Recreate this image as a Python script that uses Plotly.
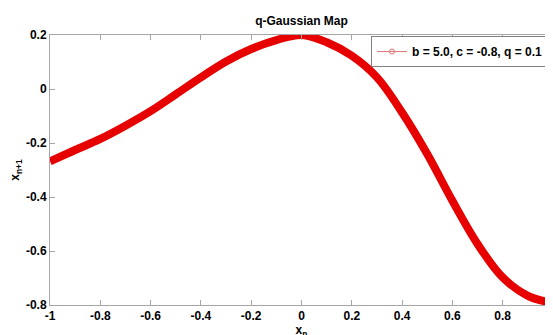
import plotly.graph_objects as go

# values
x_n = [-1.0, -0.9, -0.8, -0.7, -0.6, -0.5, -0.4, -0.3, -0.2, -0.1, 0.0,
       0.1, 0.2, 0.3, 0.4, 0.5, 0.6, 0.7, 0.8, 0.9, 1.0]
x_next = [-0.268, -0.226, -0.185, -0.136, -0.082, -0.020, 0.043, 0.102, 0.148, 0.181, 0.200,
          0.173, 0.123, 0.043, -0.087, -0.241, -0.414, -0.574, -0.698, -0.766, -0.793]

x_ticks = [-1, -0.8, -0.6, -0.4, -0.2, 0, 0.2, 0.4, 0.6, 0.8, 1]
x_ticktext = ["-1", "-0.8", "-0.6", "-0.4", "-0.2", "0", "0.2", "0.4", "0.6", "0.8", "1"]
y_ticks = [-0.8, -0.6, -0.4, -0.2, 0, 0.2]
y_ticktext = ["-0.8", "-0.6", "-0.4", "-0.2", "0", "0.2"]

series_name = "b = 5.0, c = -0.8, q = 0.1"

bold = dict(family="Arial", size=12, color="black", weight="bold")
axis_gray = "#a6a6a6"

# the page body adds an 8px margin, so the figure is shifted by that much
PAGE_OFFSET = 8

fig = go.Figure()

# thick curve
fig.add_trace(go.Scatter(
    x=x_n, y=x_next,
    mode="lines",
    line=dict(color="#e60000", width=8, shape="spline", smoothing=1.0),
    showlegend=False,
))

# legend entry only (thin line with open circle, like the original)
fig.add_trace(go.Scatter(
    x=[None], y=[None],
    mode="lines+markers",
    line=dict(color="#e07070", width=1),
    marker=dict(symbol="circle-open", size=5, color="#e07070"),
    name="<b>" + series_name + "</b>",
))

fig.update_xaxes(
    range=[-1, 1],
    tickvals=x_ticks, ticktext=x_ticktext,
    ticks="inside", ticklen=5, tickcolor=axis_gray,
    showline=True, linecolor=axis_gray, linewidth=1, mirror="ticks",
    showgrid=False, zeroline=False, automargin=False,
    tickfont=bold,
    title=dict(text="x<sub>n</sub>", font=bold, standoff=2),
)
fig.update_yaxes(
    range=[-0.8, 0.2],
    tickvals=y_ticks, ticktext=y_ticktext,
    ticks="inside", ticklen=5, tickcolor=axis_gray,
    showline=True, linecolor=axis_gray, linewidth=1, mirror="ticks",
    showgrid=False, zeroline=False, automargin=False,
    tickfont=bold,
    title=dict(text="x<sub>n+1</sub>", font=bold, standoff=3),
)

fig.update_layout(
    width=553, height=335,
    margin=dict(l=50 - PAGE_OFFSET, r=PAGE_OFFSET, t=35 - PAGE_OFFSET, b=30 + PAGE_OFFSET),
    paper_bgcolor="white", plot_bgcolor="white",
    title=dict(text="q-Gaussian Map", font=bold, x=0.5, xref="paper",
               y=1 - (21 - PAGE_OFFSET) / 335, yanchor="middle"),
    legend=dict(
        x=0.992, y=0.996, xanchor="right", yanchor="top",
        bordercolor="#808080", borderwidth=1, bgcolor="white",
        font=dict(family="Arial", size=12, color="black"), itemwidth=30,
        tracegroupgap=0,
    ),
)

fig.write_html("out.html")
